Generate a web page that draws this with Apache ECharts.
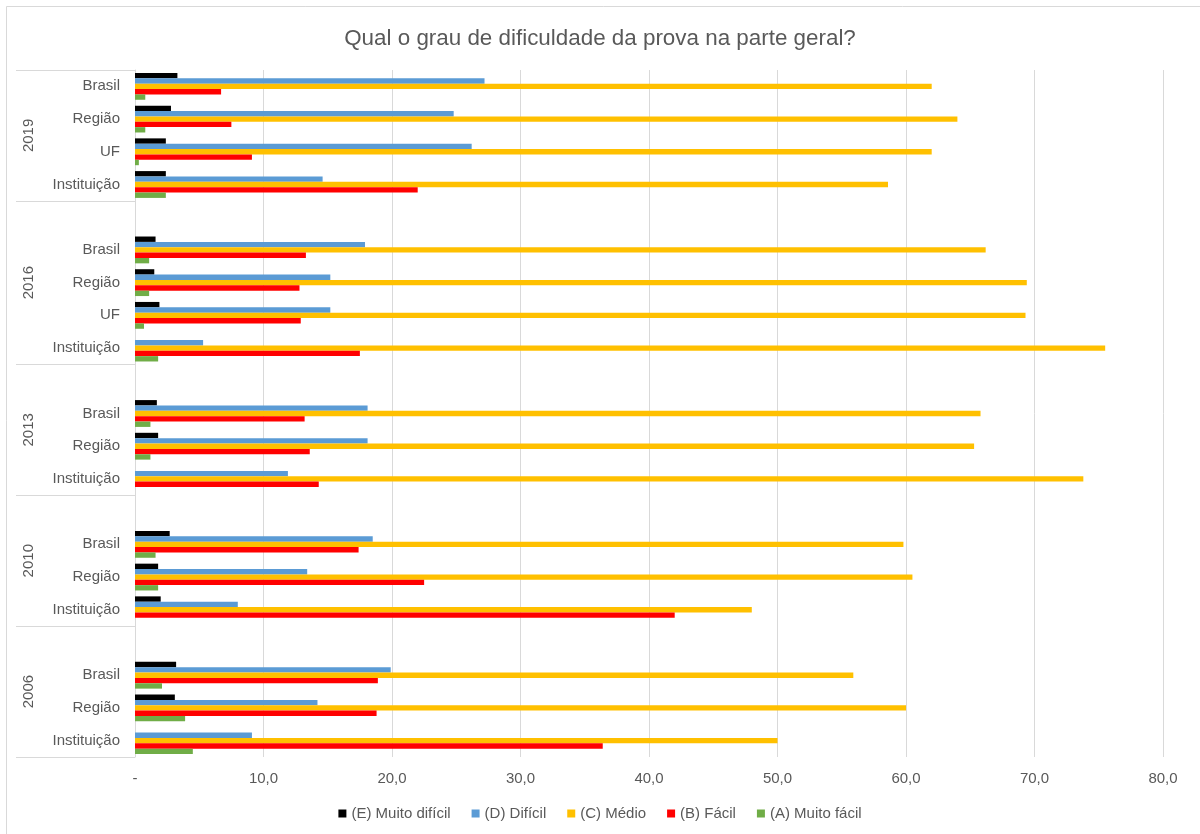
<!DOCTYPE html>
<html>
<head>
<meta charset="utf-8">
<script src="https://cdn.jsdelivr.net/npm/echarts@6/dist/echarts.min.js"></script>
<style>
html,body{margin:0;padding:0;background:#fff;}
#chart{width:1200px;height:834px;}
</style>
</head>
<body>
<div id="chart"></div>
<script>
// ---- data ----
const titleText = 'Qual o grau de dificuldade da prova na parte geral?';
const years = ['2019', '2016', '2013', '2010', '2006'];
// row labels, top to bottom; '' = spacer row that opens each following year group
const categories = [
  'Brasil', 'Região', 'UF', 'Instituição',
  '', 'Brasil', 'Região', 'UF', 'Instituição',
  '', 'Brasil', 'Região', 'Instituição',
  '', 'Brasil', 'Região', 'Instituição',
  '', 'Brasil', 'Região', 'Instituição'
];
const seriesNames = ['(E) Muito difícil', '(D) Difícil', '(C) Médio', '(B) Fácil', '(A) Muito fácil'];
const muitoDificil = [3.3, 2.8, 2.4, 2.4, null, 1.6, 1.5, 1.9, null, null, 1.7, 1.8, null, null, 2.7, 1.8, 2.0, null, 3.2, 3.1, null];
const dificil      = [27.2, 24.8, 26.2, 14.6, null, 17.9, 15.2, 15.2, 5.3, null, 18.1, 18.1, 11.9, null, 18.5, 13.4, 8.0, null, 19.9, 14.2, 9.1];
const medio        = [62.0, 64.0, 62.0, 58.6, null, 66.2, 69.4, 69.3, 75.5, null, 65.8, 65.3, 73.8, null, 59.8, 60.5, 48.0, null, 55.9, 60.0, 50.0];
const facil        = [6.7, 7.5, 9.1, 22.0, null, 13.3, 12.8, 12.9, 17.5, null, 13.2, 13.6, 14.3, null, 17.4, 22.5, 42.0, null, 18.9, 18.8, 36.4];
const muitoFacil   = [0.8, 0.8, 0.3, 2.4, null, 1.1, 1.1, 0.7, 1.8, null, 1.2, 1.2, null, null, 1.6, 1.8, null, null, 2.1, 3.9, 4.5];
const xTickLabels = ['-', '10,0', '20,0', '30,0', '40,0', '50,0', '60,0', '70,0', '80,0'];

// ---- build ----
const colors = ['#000000', '#5B9BD5', '#FFC000', '#FF0000', '#70AD47'];
const values = [muitoDificil, dificil, medio, facil, muitoFacil];
const FONT = '"Liberation Sans", Arial, sans-serif';
const TXT = '#595959';

// group boundaries (row index where each year group starts) and centers
const bounds = [0];
categories.forEach((c, i) => { if (c === '') bounds.push(i); });
bounds.push(categories.length);
const yearAt = {};
for (let k = 0; k < years.length; k++) {
  yearAt[((bounds[k] + bounds[k + 1]) / 2).toFixed(1)] = years[k];
}

const chart = echarts.init(document.getElementById('chart'), null, {renderer: 'canvas'});
chart.setOption({
  animation: false,
  backgroundColor: '#ffffff',
  textStyle: {fontFamily: FONT},
  color: colors,
  title: {
    text: titleText,
    left: 'center',
    top: 23,
    textStyle: {fontFamily: FONT, fontSize: 22.4, fontWeight: 'normal', color: TXT}
  },
  graphic: [{
    type: 'rect', silent: true, z: -10,
    shape: {x: 6.5, y: 6.5, width: 1300, height: 1000},
    style: {fill: 'none', stroke: '#d9d9d9', lineWidth: 1}
  }],
  legend: {
    top: 801,
    left: 'center',
    itemWidth: 8,
    itemHeight: 8,
    itemGap: 21,
    icon: 'rect',
    data: seriesNames,
    textStyle: {fontFamily: FONT, fontSize: 15, color: TXT}
  },
  grid: {left: 135, right: 37, top: 70, bottom: 77, containLabel: false},
  xAxis: {
    type: 'value',
    min: 0, max: 80, interval: 10,
    axisLine: {show: false},
    axisTick: {show: false},
    splitLine: {lineStyle: {color: '#d9d9d9', width: 1}},
    axisLabel: {
      margin: 14, fontSize: 15, color: TXT, fontFamily: FONT,
      formatter: v => xTickLabels[Math.round(v / 10)]
    }
  },
  yAxis: [{
    type: 'category',
    data: categories,
    inverse: true,
    axisLine: {show: true, lineStyle: {color: '#d9d9d9', width: 1}},
    axisTick: {
      show: true, length: 119, alignWithLabel: false,
      interval: (i) => i === 0 || categories[i] === '',
      lineStyle: {color: '#d9d9d9', width: 1}
    },
    axisLabel: {margin: 15, fontSize: 15, color: TXT, fontFamily: FONT, interval: 0, padding: [6, 0, 0, 0]}
  }, {
    type: 'value',
    min: 0, max: categories.length, interval: 0.5,
    inverse: true,
    position: 'left',
    offset: 91,
    axisLine: {show: false},
    axisTick: {show: false},
    splitLine: {show: false},
    axisLabel: {
      margin: 8, rotate: 90, fontSize: 15, color: TXT, fontFamily: FONT,
      showMinLabel: true, showMaxLabel: true,
      formatter: v => yearAt[v.toFixed(1)] || ''
    }
  }],
  series: seriesNames.map((name, k) => ({
    name: name,
    type: 'bar',
    yAxisIndex: 0,
    data: values[k],
    barGap: '0%',
    barCategoryGap: '18%',
    itemStyle: {color: colors[k]}
  }))
});
</script>
</body>
</html>
